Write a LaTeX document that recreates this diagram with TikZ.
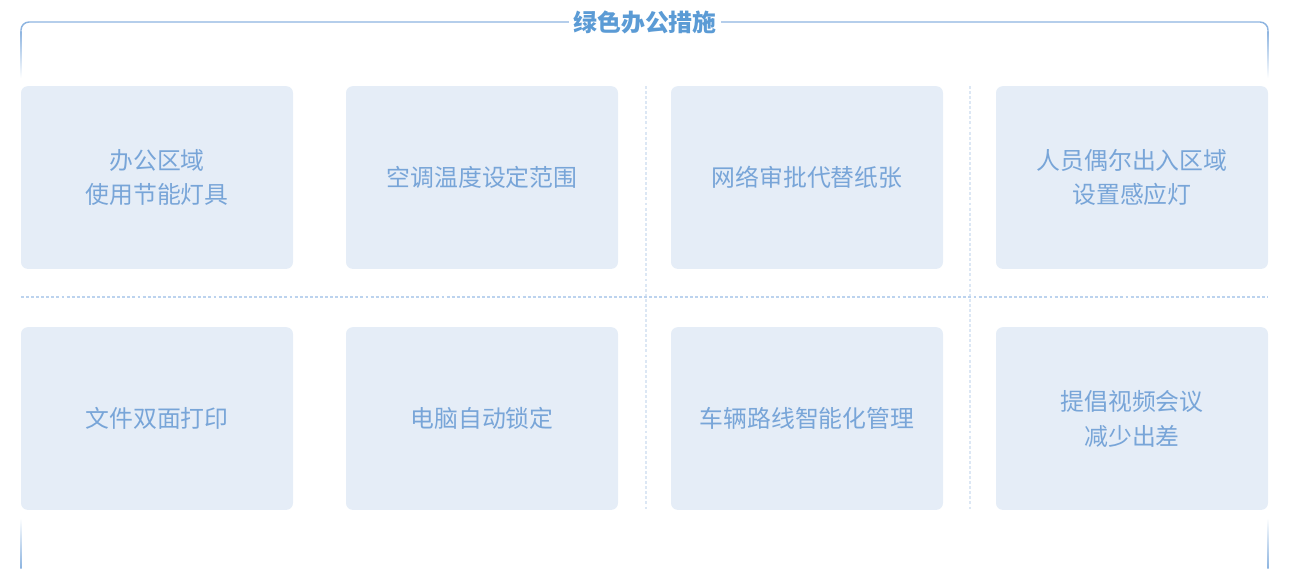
\documentclass[tikz,border=0pt]{standalone}
\usepackage{fontspec}
\setmainfont{Noto Sans CJK SC}
\definecolor{frame}{HTML}{8DB4E0}
\definecolor{title}{HTML}{5B9BD5}
\definecolor{boxfill}{HTML}{E5EDF7}
\definecolor{boxtext}{HTML}{78A5D8}
\definecolor{dotline}{HTML}{BCD3EE}
\definecolor{dotlinev}{HTML}{DCE7F4}
\begin{document}
\begin{tikzpicture}[x=0.75pt,y=-0.75pt,
  card/.style={fill=boxfill,draw=none,rounded corners=5pt,minimum width=204pt,minimum height=137pt,
    text=boxtext,font=\fontsize{17.9pt}{26.2pt}\selectfont,align=center,inner sep=0pt},
  sep/.style={dotline,line width=0.9pt,dash pattern=on 2.2pt off 1.6pt},
  vsep/.style={dotlinev,line width=0.9pt,dash pattern=on 2.2pt off 1.6pt}]
\useasboundingbox (0,0) rectangle (1293,568);
% frame
\draw[frame,line width=1.1pt,rounded corners=6pt] (21,32) -- (21,22) -- (1268,22) -- (1268,32);
\shade[top color=frame,bottom color=white] (20.4,31) rectangle (21.6,78);
\shade[top color=frame,bottom color=white] (1267.4,31) rectangle (1268.6,78);
\shade[top color=white,bottom color=frame] (20.4,518) rectangle (21.6,568);
\shade[top color=white,bottom color=frame] (1267.4,518) rectangle (1268.6,568);
\node[fill=white,inner xsep=3pt,inner ysep=1pt,text=title,font=\fontsize{17.9pt}{20pt}\selectfont\bfseries] (t) at (645,22) {绿色办公措施};
% separators
\coordinate (h1) at (21,297);
\coordinate (h2) at (1268,297);
\coordinate (v1a) at (646,86);
\coordinate (v1b) at (646,510);
\coordinate (v2a) at (970,86);
\coordinate (v2b) at (970,510);
\draw[vsep] (v1a) -- (v1b);
\draw[vsep] (v2a) -- (v2b);
\draw[sep] (h1) -- (h2);
% cards
\node[card] (a1) at (157,177.5) {办公区域\\使用节能灯具};
\node[card] (a2) at (482,177.5) {空调温度设定范围};
\node[card] (a3) at (807,177.5) {网络审批代替纸张};
\node[card] (a4) at (1132,177.5) {人员偶尔出入区域\\设置感应灯};
\node[card] (b1) at (157,418.5) {文件双面打印};
\node[card] (b2) at (482,418.5) {电脑自动锁定};
\node[card] (b3) at (807,418.5) {车辆路线智能化管理};
\node[card] (b4) at (1132,418.5) {提倡视频会议\\减少出差};
\end{tikzpicture}
\end{document}
